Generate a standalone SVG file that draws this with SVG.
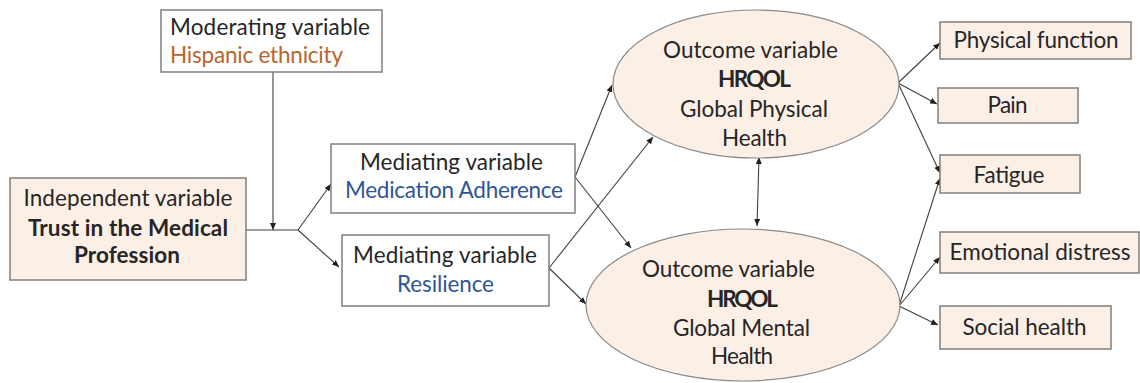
<svg xmlns="http://www.w3.org/2000/svg" width="1140" height="383" viewBox="0 0 1140 383">
<style>
text{font-family:Lato,"Liberation Sans",sans-serif;font-size:22.5px;fill:#262626}
.c{text-anchor:middle}
.b{font-weight:bold}
.box{fill:#ffffff;stroke:#7f7f7f;stroke-width:1.5}
.pbox{fill:#fcefe6;stroke:#7f7f7f;stroke-width:1.5}
.ell{fill:#fcefe6;stroke:#8a8a8a;stroke-width:1.2}
.blue{fill:#2f5597}
.orange{fill:#b9652c}
.ln{fill:none;stroke:#404040;stroke-width:1.1}
</style>
<defs>
<marker id="ah" markerUnits="userSpaceOnUse" markerWidth="8" markerHeight="6" refX="7" refY="3" orient="auto">
<path d="M0,0 L7,3 L0,6 z" fill="#202020"/>
</marker>
<marker id="as" markerUnits="userSpaceOnUse" markerWidth="8" markerHeight="6" refX="0" refY="3" orient="auto">
<path d="M7,0 L0,3 L7,6 z" fill="#202020"/>
</marker>
</defs>

<g id="connectors">
<line class="ln" x1="273" y1="72" x2="273" y2="230" marker-end="url(#ah)"/>
<polyline class="ln" points="246,230 298,230"/>
<line class="ln" x1="298" y1="230" x2="331" y2="184" marker-end="url(#ah)"/>
<line class="ln" x1="298" y1="230" x2="339" y2="267" marker-end="url(#ah)"/>
<line class="ln" x1="575" y1="177" x2="612" y2="85" marker-end="url(#ah)"/>
<line class="ln" x1="575" y1="177" x2="631" y2="248" marker-end="url(#ah)"/>
<line class="ln" x1="549" y1="268" x2="653" y2="137" marker-end="url(#ah)"/>
<line class="ln" x1="549" y1="268" x2="586" y2="304" marker-end="url(#ah)"/>
<line class="ln" x1="759" y1="157" x2="757" y2="226" marker-start="url(#as)" marker-end="url(#ah)"/>
<line class="ln" x1="898" y1="83" x2="940" y2="43" marker-end="url(#ah)"/>
<line class="ln" x1="898" y1="83" x2="937" y2="104" marker-end="url(#ah)"/>
<line class="ln" x1="898" y1="83" x2="940" y2="173" marker-end="url(#ah)"/>
<line class="ln" x1="899" y1="306" x2="940" y2="178" marker-end="url(#ah)"/>
<line class="ln" x1="899" y1="306" x2="940" y2="257" marker-end="url(#ah)"/>
<line class="ln" x1="899" y1="306" x2="938" y2="325" marker-end="url(#ah)"/>
</g>

<g id="moderating">
<rect class="box" x="161" y="10" width="221" height="62"/>
<text x="170" y="35" textLength="200">Moderating variable</text>
<text class="orange" x="170" y="63" textLength="173">Hispanic ethnicity</text>
</g>

<g id="independent">
<rect class="pbox" x="10" y="178" width="236" height="102"/>
<text class="c" x="128" y="205.5" textLength="209">Independent variable</text>
<text class="c b" x="128" y="235.5" textLength="200">Trust in the Medical</text>
<text class="c b" x="127" y="262.5" textLength="106">Profession</text>
</g>

<g id="mediating-adherence">
<rect class="box" x="331" y="144" width="244" height="69"/>
<text class="c" x="451.5" y="170" textLength="183">Mediating variable</text>
<text class="c blue" x="454" y="198" textLength="218">Medication Adherence</text>
</g>

<g id="mediating-resilience">
<rect class="box" x="342" y="235" width="207" height="71"/>
<text class="c" x="445" y="263" textLength="184">Mediating variable</text>
<text class="c blue" x="445.5" y="292" textLength="97">Resilience</text>
</g>

<g id="outcome-physical">
<ellipse class="ell" cx="756" cy="84" rx="143" ry="74"/>
<text class="c" x="750.5" y="58" textLength="175">Outcome variable</text>
<text class="c b" x="754.5" y="87" textLength="73">HRQOL</text>
<text class="c" x="754" y="117" textLength="148">Global Physical</text>
<text class="c" x="754.5" y="146" textLength="65">Health</text>
</g>

<g id="outcome-mental">
<ellipse class="ell" cx="743" cy="305" rx="157" ry="76"/>
<text class="c" x="728.5" y="277" textLength="173">Outcome variable</text>
<text class="c b" x="742.5" y="307" textLength="71">HRQOL</text>
<text class="c" x="741.5" y="335.5" textLength="137">Global Mental</text>
<text class="c" x="742" y="364" textLength="62">Health</text>
</g>

<g id="physical-function">
<rect class="pbox" x="940" y="22" width="191" height="37"/>
<text class="c" x="1036" y="48" textLength="165">Physical function</text>
</g>
<g id="pain">
<rect class="pbox" x="938" y="88" width="140" height="35"/>
<text class="c" x="1007.5" y="113" textLength="40">Pain</text>
</g>
<g id="fatigue">
<rect class="pbox" x="940" y="155" width="140" height="38"/>
<text class="c" x="1009" y="183" textLength="71">Fatigue</text>
</g>
<g id="emotional-distress">
<rect class="pbox" x="940" y="232" width="199" height="41"/>
<text class="c" x="1040" y="260" textLength="181">Emotional distress</text>
</g>
<g id="social-health">
<rect class="pbox" x="940" y="306" width="171" height="43"/>
<text class="c" x="1024.5" y="335" textLength="124">Social health</text>
</g>
</svg>
